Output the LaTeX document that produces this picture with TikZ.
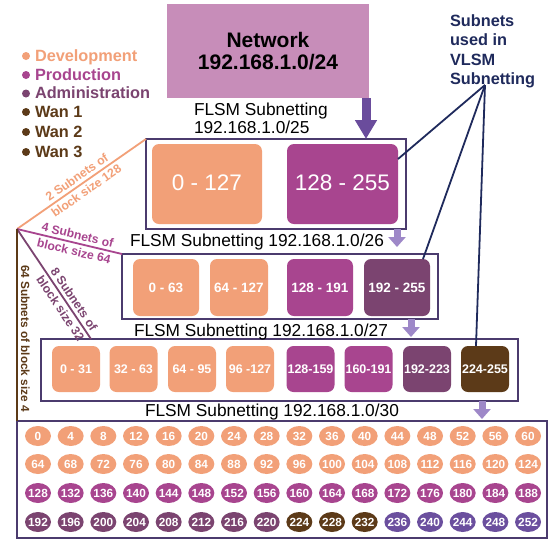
\documentclass[tikz,border=0pt]{standalone}
\usepackage{fontspec}
\setmainfont{Liberation Sans}
\usetikzlibrary{arrows.meta,shapes.geometric,calc}
\newcommand\setfz[2]{\fontsize{#1}{#2}\selectfont}

\definecolor{dev}{HTML}{F2A078}
\definecolor{prod}{HTML}{A8458F}
\definecolor{adm}{HTML}{7B4470}
\definecolor{wan}{HTML}{5C3A18}
\definecolor{spare}{HTML}{6B4F9E}
\definecolor{netfill}{HTML}{C78DB9}
\definecolor{frame}{HTML}{4B3B6E}
\definecolor{navy}{HTML}{1F2A5C}
\definecolor{darkarrow}{HTML}{6A4C9C}
\definecolor{lightarrow}{HTML}{9E88C8}

\begin{document}
\begin{tikzpicture}[x=1pt,y=-1pt,
  every node/.style={inner sep=0pt,outer sep=0pt},
  frm/.style={rectangle,draw=frame,line width=1.6pt},
  blk/.style={rectangle,rounded corners=7pt,text=white},
  dot/.style={ellipse,minimum width=26pt,minimum height=20pt,text=white,font=\setfz{11.8}{12}\bfseries},
  flsm/.style={anchor=base west,font=\setfz{17.3}{20}},
  legtxt/.style={anchor=base west,font=\setfz{16.3}{18}\bfseries},
  legdot/.style={circle,minimum size=8pt},
  vlsm/.style={anchor=base west,font=\setfz{16.3}{18}\bfseries,text=navy},
  tie/.style={line width=1.8pt},
  steplab/.style={align=center,anchor=center,font=\setfz{12.2}{16.5}\bfseries},
  bigarr/.style={line width=9pt,draw=darkarrow,-{Triangle[width=21pt,length=19pt]}},
  smallarr/.style={line width=7pt,draw=lightarrow,-{Triangle[width=17pt,length=10pt]}},
]
\useasboundingbox (0,0) rectangle (552,542);
\fill[white] (0,0) rectangle (552,542);

% the whole network
\node[fill=netfill,minimum width=202pt,minimum height=94pt,align=center,
      font=\setfz{21}{22.6}\bfseries] (net) at (268,51) {Network\\192.168.1.0/24};

% legend
\foreach \n/\c/\y/\t in {dev/dev/61/Development, prod/prod/80/Production,
    adm/adm/98.5/Administration, wanA/wan/117/Wan 1, wanB/wan/137/Wan 2, wanC/wan/157/Wan 3}{
  \node[legdot,fill=\c] (b\n) at (26,\y-5) {};
  \node[legtxt,text=\c] (t\n) at (35,\y) {\t};
}

% frames of the four subnetting levels
\node[frm,minimum width=260pt,minimum height=90pt] (f1) at (276,184) {};
\node[frm,minimum width=316pt,minimum height=65pt] (f2) at (280,286.5) {};
\node[frm,minimum width=477pt,minimum height=62pt] (f3) at (279.5,370) {};
\node[frm,minimum width=530pt,minimum height=117pt] (f4) at (282,479.5) {};

% /25 blocks
\node[blk,fill=dev,minimum width=110pt,minimum height=80pt,font=\setfz{22.5}{24}] (r1a) at (207,184) {\raisebox{2pt}{0 - 127}};
\node[blk,fill=prod,minimum width=111pt,minimum height=80pt,font=\setfz{22.5}{24}] (r1b) at (342.5,184) {\raisebox{2pt}{128 - 255}};

% /26 blocks
\foreach \n/\x/\w/\c/\t in {a/166/66/dev/0 - 63, b/239/58/dev/64 - 127,
    c/320/66/prod/128 - 191, d/397/66/adm/192 - 255}{
  \node[blk,fill=\c,minimum width=\w pt,minimum height=57pt,font=\setfz{13.5}{15}\bfseries] (r2\n) at (\x,287.5) {\t};
}

% /27 blocks
\foreach \n/\x/\c/\t in {a/76/dev/0 - 31, b/133.5/dev/32 - 63, c/192/dev/64 - 95,
    d/250/dev/96 -127, e/310.5/prod/128-159, f/368.5/prod/160-191,
    g/427/adm/192-223, h/485/wan/224-255}{
  \node[blk,fill=\c,minimum width=48pt,minimum height=46pt,font=\setfz{12.5}{14}\bfseries] (r3\n) at (\x,369) {\t};
}

% /30 blocks
\foreach \r/\ry in {0/436,1/464,2/493,3/522}{
  \foreach \k in {0,...,15}{
    \pgfmathtruncatemacro\v{64*\r+4*\k}
    \ifnum\r<2 \def\cc{dev}\else\ifnum\r=2 \def\cc{prod}\else
      \ifnum\k<8 \def\cc{adm}\else\ifnum\k<11 \def\cc{wan}\else\def\cc{spare}\fi\fi\fi\fi
    \node[dot,fill=\cc] (c\v) at ({38+32.67*\k},\ry) {\makebox[0pt]{\v}};
  }
}

% level captions
\node[flsm] (l25a) at (194,115) {FLSM Subnetting};
\node[flsm] (l25b) at (194,133) {192.168.1.0/25};
\node[flsm] (l26) at (130,246.7) {FLSM Subnetting 192.168.1.0/26};
\node[flsm] (l27) at (134,336) {FLSM Subnetting 192.168.1.0/27};
\node[flsm] (l30) at (145,416.7) {FLSM Subnetting 192.168.1.0/30};

% VLSM note
\node[vlsm] (v1) at (450,26) {Subnets};
\node[vlsm] (v2) at (450,45) {used in};
\node[vlsm] (v3) at (450,65) {VLSM};
\node[vlsm] (v4) at (450,84) {Subnetting};
\coordinate (vapex) at ($(v4.base west)+(35,1)$);
\draw[tie,navy] (vapex) -- ([yshift=25pt]r1b.east);
\draw[tie,navy] (vapex) -- ([xshift=-7pt]r2d.north east);
\draw[tie,navy] (vapex) -- ([xshift=-9pt]r3h.north);

% block size ties on the left
\coordinate (lapex) at (17,229);
\draw[tie,draw=dev] (lapex) -- (f1.north west)
  node[steplab,pos=0.5,rotate=35,text=dev] {2 Subnets of\\block size 128};
\draw[tie,draw=prod] (lapex) -- (f2.north west)
  node[steplab,pos=0.56,rotate=-13.4,text=prod] {4 Subnets of\\block size 64};
\draw[tie,draw=adm] (lapex) -- ([xshift=50pt]f3.north west)
  node[steplab,pos=0.68,rotate=-56,text=adm] {8 Subnets of\\block size 32};
\draw[tie,draw=wan] (lapex) -- (f4.north west)
  node[pos=0.57,rotate=-90,anchor=south,inner ysep=4pt,font=\setfz{11.8}{14}\bfseries,text=wan] {64 Subnets of block size 4};

% arrows between levels
\draw[bigarr] ([xshift=-3pt]net.south east) -- ([xshift=-40pt]f1.north east);
\draw[smallarr] ([xshift=121pt]f1.south) -- ([xshift=117pt,yshift=7pt]f2.north);
\draw[smallarr] ([xshift=131pt]f2.south) -- ([xshift=131.5pt,yshift=2pt]f3.north);
\draw[smallarr] ([xshift=202.5pt]f3.south) -- ([xshift=200pt,yshift=2pt]f4.north);
\end{tikzpicture}
\end{document}
